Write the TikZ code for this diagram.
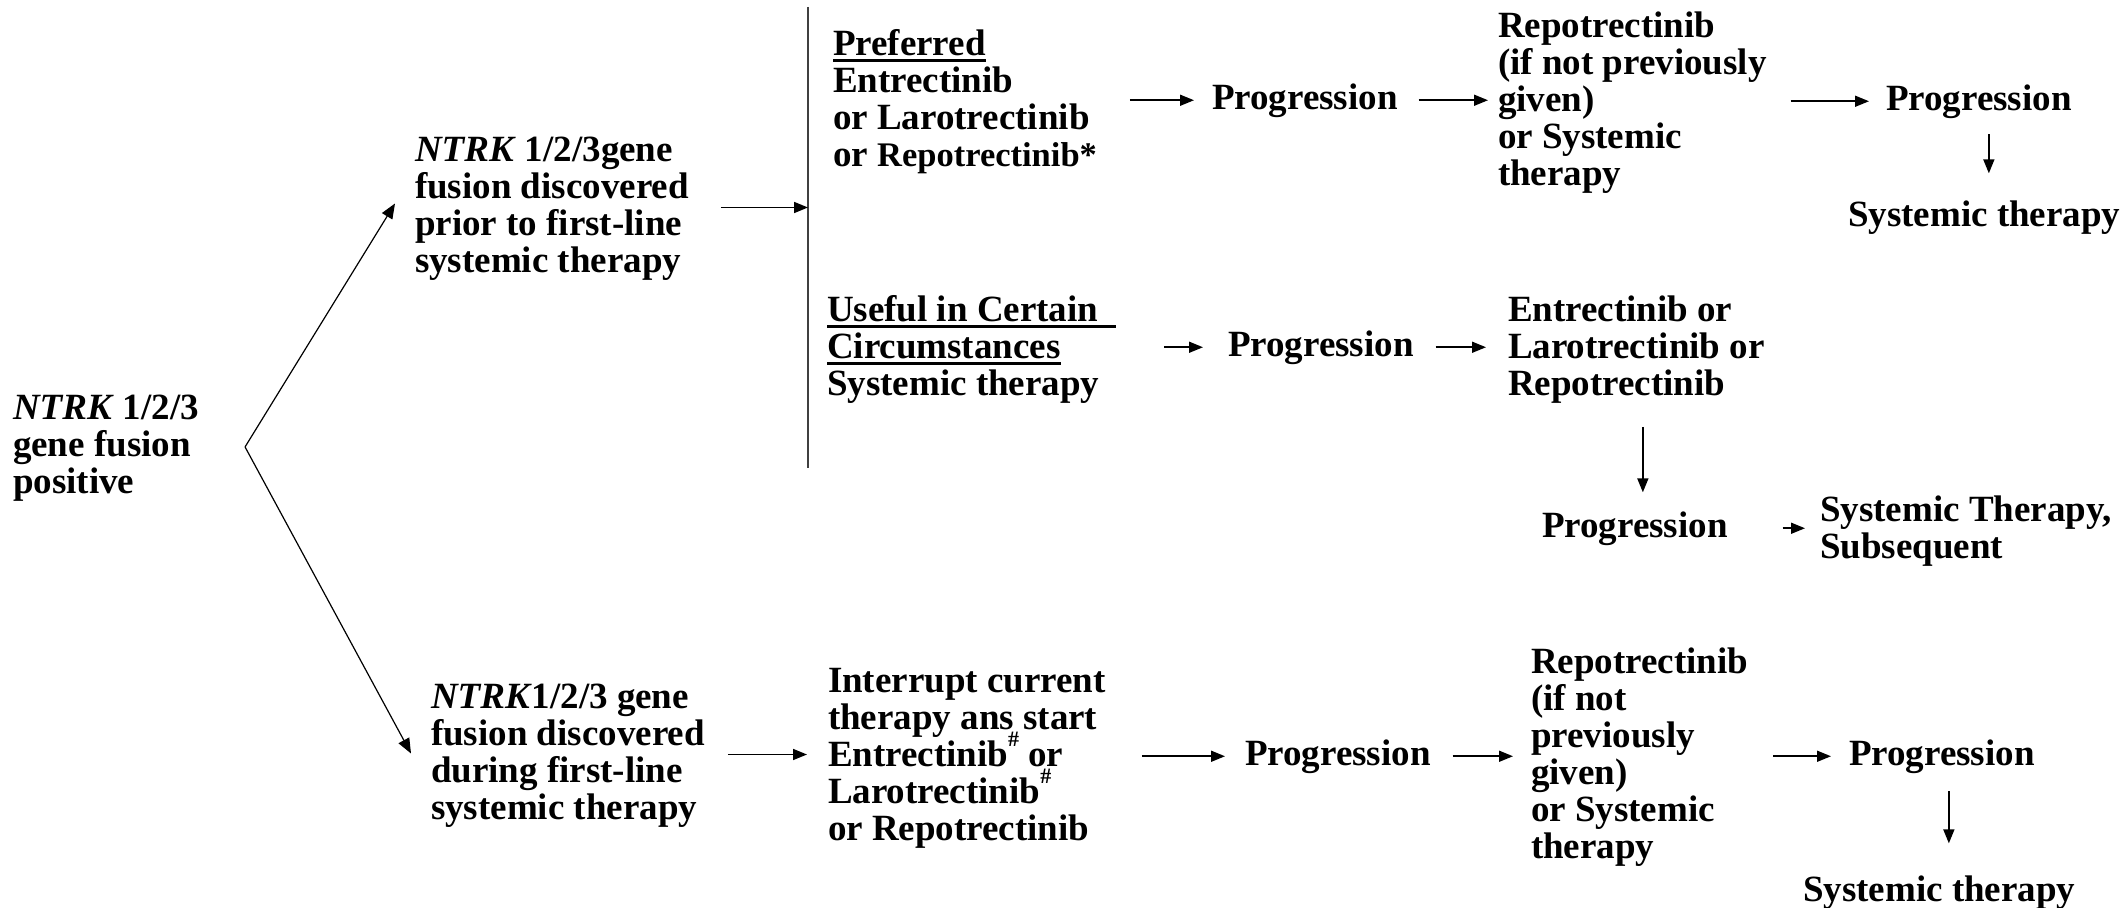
\documentclass[tikz,border=0pt]{standalone}
\usepackage{fontspec}
\setmainfont{Liberation Serif}
\usetikzlibrary{arrows.meta,calc}

% underline drawn as a rule below the word; optional arg extends it
\newcommand\ulbox[2][0pt]{\setbox0=\hbox{#2}\rlap{\rule[-7pt]{\dimexpr\wd0+#1\relax}{3pt}}\box0}
% raised footnote mark that takes no vertical room
\newcommand\hsup{\smash{\raisebox{20pt}{\fontsize{22}{22}\selectfont\#}}}
% fixes the height of a block's first line
\newcommand\topstrut{\rule{0pt}{26pt}}

\begin{document}
\begin{tikzpicture}[x=1pt,y=-1pt,
  txt/.style={inner sep=0pt, outer sep=0pt, align=left,
              font=\fontsize{37}{37}\selectfont\bfseries},
  blk/.style={txt, anchor=north west},
  one/.style={txt, anchor=base west},
  arr/.style={-{Triangle[length=14pt,width=11pt]}, line width=1.6pt},
  thinarr/.style={-{Triangle[length=15pt,width=12pt]}, line width=1.2pt},
  divider/.style={line width=1.6pt, black!75}]
\useasboundingbox (0,0) rectangle (2127,907);

% ---- first column ----
\node[blk] (root) at (13,393) {\topstrut\textit{NTRK} 1/2/3\\gene fusion\\positive};
\node[blk] (up) at (415,135) {\topstrut\textit{NTRK} 1/2/3gene\\fusion discovered\\prior to first-line\\systemic therapy};
\node[blk] (low) at (431,682) {\topstrut\textit{NTRK}1/2/3 gene\\fusion discovered\\during first-line\\systemic therapy};

% ---- treatment options ----
\coordinate (bartop) at (808,7);
\coordinate (barbot) at (808,468);
\node[blk] (pref) at (833,29) {\topstrut\ulbox{Preferred}\\Entrectinib\\or Larotrectinib\\or {\fontsize{34.5}{37}\selectfont Repotrectinib*}};
\node[blk] (useful) at (827,295) {\topstrut\ulbox[18pt]{Useful in Certain}\\\ulbox{Circumstances}\\Systemic therapy};
\node[blk] (intr) at (828,666) {\topstrut Interrupt current\\therapy ans start\\Entrectinib\hsup{} or\\Larotrectinib\hsup\\or Repotrectinib};

% ---- top row ----
\node[one] (prog1) at (1212,109) {Progression};
\node[blk] (rep1) at (1498,11) {\topstrut Repotrectinib\\(if not previously\\given)\\or Systemic\\therapy};
\node[one] (prog2) at (1886,110) {Progression};
\node[one] (sys1) at (1848,226) {Systemic therapy};

% ---- middle row ----
\node[one] (prog3) at (1228,356) {Progression};
\node[blk] (ent) at (1508,295) {\topstrut Entrectinib or\\Larotrectinib or\\Repotrectinib};
\node[one] (prog4) at (1542,537) {Progression};
\node[blk] (sub) at (1820,495) {\topstrut Systemic Therapy,\\Subsequent};

% ---- bottom row ----
\node[one] (prog5) at (1245,765) {Progression};
\node[blk] (rep2) at (1531,647) {\topstrut Repotrectinib\\(if not\\previously\\given)\\or Systemic\\therapy};
\node[one] (prog6) at (1849,765) {Progression};
\node[one] (sys2) at (1803,901) {Systemic therapy};

% ---- connectors ----
\coordinate (fork) at ([xshift=46pt]root.east);
\draw[thinarr] (fork) -- ($(up.west)+(-20,-4)$);
\draw[thinarr] (fork) -- ($(low.west)+(-20,-1)$);

\draw[divider] (bartop) -- (barbot);
\draw[arr, shorten <=32pt] (up.east) -- (up.east -| bartop);
\draw[arr, shorten <=23pt, shorten >=21pt] (low.east) -- (low.east -| intr.west);

\draw[arr, shorten <=33pt, shorten >=18pt] (prog1.west -| pref.east) -- (prog1.west);
\draw[arr, shorten <=21pt, shorten >=10pt] (prog1.east) -- (prog1.east -| rep1.west);
\draw[arr, shorten <=24pt, shorten >=17pt] (prog2.west -| rep1.east) -- (prog2.west);
\draw[arr, shorten <=16pt, shorten >=27pt] ([xshift=10pt]prog2.south) -- ([xshift=10pt]prog2.south |- sys1.north);

\draw[arr, shorten <=65pt, shorten >=25pt] (prog3.west -| useful.east) -- (prog3.west);
\draw[arr, shorten <=22pt, shorten >=22pt] (prog3.east) -- (prog3.east -| ent.west);
\draw[arr, shorten <=24pt, shorten >=19pt] ([xshift=8pt]prog4.north |- ent.south) -- ([xshift=8pt]prog4.north);
\draw[arr, shorten <=55pt, shorten >=15pt] (prog4.east) -- (prog4.east -| sub.west);

\draw[arr, shorten <=36pt, shorten >=20pt] (prog5.west -| intr.east) -- (prog5.west);
\draw[arr, shorten <=22pt, shorten >=18pt] (prog5.east) -- (prog5.east -| rep2.west);
\draw[arr, shorten <=25pt, shorten >=18pt] (prog6.west -| rep2.east) -- (prog6.west);
\draw[arr, shorten <=18pt, shorten >=32pt] ([xshift=7pt]prog6.south) -- ([xshift=7pt]prog6.south |- sys2.north);
\end{tikzpicture}
\end{document}
